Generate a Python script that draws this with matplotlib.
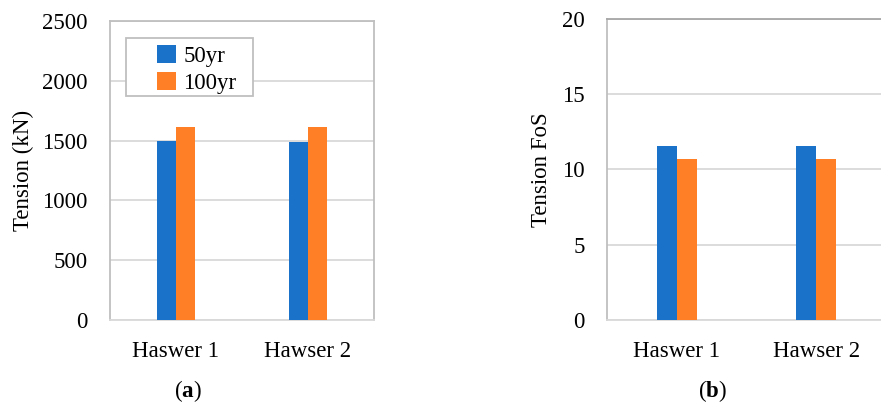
import matplotlib
matplotlib.use("Agg")
import matplotlib.pyplot as plt
from matplotlib.patches import Rectangle
import numpy as np

plt.rcParams['font.family'] = ['Liberation Serif', 'DejaVu Serif']
plt.rcParams['mathtext.fontset'] = 'custom'
plt.rcParams['mathtext.rm'] = 'Liberation Serif'
plt.rcParams['mathtext.bf'] = 'Liberation Serif:bold'

# data
hawsers = ['Haswer 1', 'Hawser 2']
series = ['50yr', '100yr']
tension_50 = [1500, 1492]
tension_100 = [1610, 1615]
fos_50 = [11.53, 11.58]
fos_100 = [10.67, 10.67]

blue = '#1A73C8'
orange = '#FF7F27'
W, H = 881, 405
fs = 16.5

fig = plt.figure(figsize=(W / 100, H / 100), dpi=100)

def panel(rect, v1, v2, ymax, step, ylabel, label_x, letter, letter_x):
    l, t, r, b = rect
    ax = fig.add_axes([l / W, 1 - b / H, (r - l) / W, (b - t) / H])
    x = np.arange(len(hawsers))
    bw = 0.142
    ax.bar(x - bw / 2, v1, bw, color=blue, label=series[0], zorder=3)
    ax.bar(x + bw / 2, v2, bw, color=orange, label=series[1], zorder=3)
    ax.set_xlim(-0.5, len(hawsers) - 0.5)
    ax.set_ylim(0, ymax)
    ax.set_yticks(np.arange(0, ymax + step, step))
    ax.set_xticks(x)
    ax.set_xticklabels(hawsers)
    ax.yaxis.grid(True, color='#D9D9D9', linewidth=1.3, zorder=0)
    ax.set_axisbelow(True)
    for s in ax.spines.values():
        s.set_color('#BFBFBF')
        s.set_linewidth(1.3)
    ax.spines['bottom'].set_color('#D9D9D9')
    ax.tick_params(length=0, labelsize=fs, colors='#000000')
    ax.tick_params(axis='y', pad=16)
    ax.tick_params(axis='x', pad=15)
    ax.set_ylabel(ylabel, fontsize=fs)
    ax.yaxis.set_label_coords((label_x - l) / (r - l), 0.5)
    fig.text(letter_x / W, 1 - 391 / H, '($\\mathbf{' + letter + '}$)',
             fontsize=fs, ha='center', va='center')
    return ax

ax1 = panel((110, 21, 374, 320), tension_50, tension_100, 2500, 500,
            'Tension (kN)', 34, 'a', 188)
# legend frame drawn by hand so the inner padding matches the original
ax1.add_patch(Rectangle((126 / W, 1 - 96 / H), 127 / W, 58 / H,
                        transform=fig.transFigure, facecolor='white',
                        edgecolor='#BFBFBF', linewidth=1.3, zorder=5,
                        clip_on=False))
leg = ax1.legend(loc='upper left', bbox_to_anchor=(157 / W, 1 - 45 / H),
                 bbox_transform=fig.transFigure, fontsize=fs, frameon=False,
                 handlelength=0.85, handleheight=0.85,
                 handletextpad=0.3, borderpad=0, labelspacing=0.2,
                 borderaxespad=0)
leg.set_zorder(6)

ax2 = panel((607, 19, 886, 320), fos_50, fos_100, 20, 5,
            'Tension FoS', 552, 'b', 712)
ax2.spines['top'].set_color('#A6A6A6')

fig.savefig('out.png', dpi=100)
